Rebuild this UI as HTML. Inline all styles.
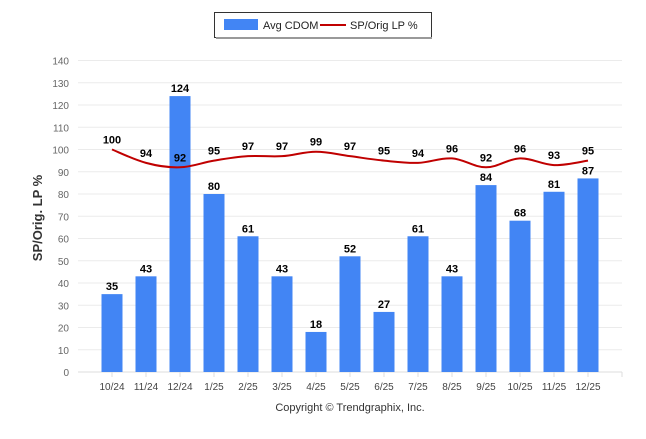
<!DOCTYPE html>
<html><head><meta charset="utf-8"><style>
body{margin:0;background:#fff;font-family:"Liberation Sans",Arial,sans-serif}
</style></head><body>
<svg width="646" height="434" xmlns="http://www.w3.org/2000/svg" font-family="Liberation Sans, Arial, sans-serif">
<g>
<rect x="214.5" y="12.5" width="217" height="25" fill="#fff" stroke="#333" stroke-width="1"/>
<line x1="216" y1="38" x2="432" y2="38" stroke="#999" stroke-width="2"/>
<rect x="224" y="19" width="34" height="11" fill="#4285f4"/>
<text x="263" y="29" font-size="11" fill="#222">Avg CDOM</text>
<line x1="320" y1="25" x2="346" y2="25" stroke="#c00000" stroke-width="2"/>
<text x="350" y="29" font-size="11" fill="#222">SP/Orig LP %</text>
</g>
<g id="grid"></g><g id="bars"></g><g id="line"></g><g id="labels"></g>
<text transform="translate(42,218) rotate(-90)" text-anchor="middle" font-size="13" font-weight="bold" fill="#333">SP/Orig. LP %</text>
<text x="350" y="411" text-anchor="middle" font-size="11" fill="#333">Copyright © Trendgraphix, Inc.</text>
</svg>
<script>
const categories=["10/24","11/24","12/24","1/25","2/25","3/25","4/25","5/25","6/25","7/25","8/25","9/25","10/25","11/25","12/25"];
const cdomValues=[35,43,124,80,61,43,18,52,27,61,43,84,68,81,87];
const lpValues=[100,94,92,95,97,97,99,97,95,94,96,92,96,93,95];
const yTicks=[0,10,20,30,40,50,60,70,80,90,100,110,120,130,140];
const NS="http://www.w3.org/2000/svg";
const y0=372,yTop=60.5,left=78,right=622,step=34;
const yS=v=>y0-(v/140)*(y0-yTop);
const xS=i=>left+step*(i+1);
function mk(t,a,p){const e=document.createElementNS(NS,t);for(const k in a)e.setAttribute(k,a[k]);p.appendChild(e);return e;}
const grid=document.getElementById('grid');
yTicks.forEach(v=>{
 const l=mk('line',{x1:left,x2:right,y1:yS(v),y2:yS(v),stroke:v===0?'#ddd':'#ebebeb','stroke-width':1},grid);
 
 
 const t=mk('text',{x:69,y:yS(v)+4,'text-anchor':'end','font-size':10,fill:'#666'},grid);t.textContent=v;
 
 
});
categories.forEach((c,i)=>{
 mk('line',{x1:xS(i),x2:xS(i),y1:y0,y2:y0+5,stroke:'#ddd'},grid);
 const t=mk('text',{x:xS(i),y:390,'text-anchor':'middle','font-size':10,fill:'#444'},grid);t.textContent=c;
 
 
});
mk('line',{x1:right,x2:right,y1:y0,y2:y0+5,stroke:'#ddd'},grid);
const bars=document.getElementById('bars'),labels=document.getElementById('labels');
cdomValues.forEach((v,i)=>{
 const r=mk('rect',{x:xS(i)-10.5,y:yS(v),width:21,height:y0-yS(v),fill:'#4285f4'},bars);
 
 
 const t=mk('text',{x:xS(i),y:yS(v)-4,'text-anchor':'middle','font-size':11,'font-weight':'bold',fill:'#000'},labels);t.textContent=v;
 
 
});
const pts=lpValues.map((v,i)=>[xS(i),yS(v)]);
let d='M'+pts[0][0]+','+pts[0][1];
for(let i=0;i<pts.length-1;i++){
 const p0=pts[Math.max(0,i-1)],p1=pts[i],p2=pts[i+1],p3=pts[Math.min(pts.length-1,i+2)];
 const k=0.18;
 d+=' C'+(p1[0]+(p2[0]-p0[0])*k)+','+(p1[1]+(p2[1]-p0[1])*k)+' '+(p2[0]-(p3[0]-p1[0])*k)+','+(p2[1]-(p3[1]-p1[1])*k)+' '+p2[0]+','+p2[1];
}
const path=mk('path',{d:d,fill:'none',stroke:'#c00000','stroke-width':2},document.getElementById('line'));


lpValues.forEach((v,i)=>{
 const t=mk('text',{x:xS(i),y:yS(v)-6,'text-anchor':'middle','font-size':11,'font-weight':'bold',fill:'#000'},labels);t.textContent=v;
 
 
});
</script>
</body></html>
